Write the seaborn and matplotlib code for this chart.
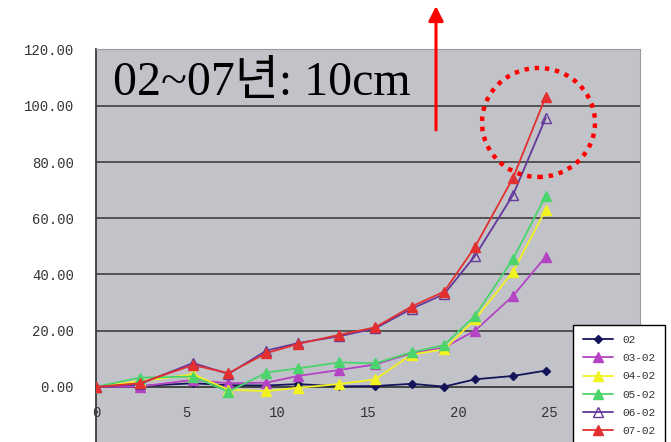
import numpy as np
import pandas as pd
import matplotlib.pyplot as plt
import seaborn as sns
from matplotlib.patches import Ellipse
from matplotlib.ticker import FuncFormatter

x_vals = [0, 2.4, 5.35, 7.3, 9.4, 11.15, 13.4, 15.4, 17.4, 19.2, 20.9, 23.0, 24.8]

s_02 = [0, 0.3, 1.3, 0.6, 0.5, 1.0, 0.2, 0.3, 1.1, 0.1, 2.7, 3.9, 5.8]
s_03_02 = [0, 0.1, 2.5, 1.3, 1.5, 3.9, 6.0, 8.0, 12.0, 14.0, 20.0, 32.4, 46.3]
s_04_02 = [0, 2.0, 4.5, -1.0, -1.5, -0.3, 1.0, 2.7, 11.5, 13.4, 24.0, 41.0, 63.0]
s_05_02 = [0, 3.3, 3.7, -1.7, 5.1, 6.6, 8.7, 8.4, 12.3, 14.9, 25.3, 45.5, 68.0]
s_06_02 = [0, 1.0, 8.5, 4.6, 12.9, 15.6, 18.0, 20.8, 27.8, 33.0, 46.6, 68.3, 95.7]
s_07_02 = [0, 1.3, 7.8, 4.9, 12.0, 15.3, 18.5, 21.2, 28.6, 33.9, 49.8, 74.4, 103.2]

series_names = ["02", "03-02", "04-02", "05-02", "06-02", "07-02"]
series_vals = [s_02, s_03_02, s_04_02, s_05_02, s_06_02, s_07_02]
series_colors = ["#14145a", "#b444c4", "#f2f222", "#4cd46c", "#64389a", "#e23030"]
series_markers = ["D", "^", "^", "^", "^", "^"]

y_ticks = [0, 20, 40, 60, 80, 100, 120]
x_ticks = [0, 5, 10, 15, 20, 25]

sns.set_style("white")
plt.rcParams['font.family'] = ['Liberation Mono', 'DejaVu Sans Mono']

fig = plt.figure(figsize=(6.71, 4.42), dpi=100)
ax = fig.add_axes([96 / 671, 0, 544 / 671, 393 / 442])
ax.set_facecolor("#c1c3c8")

for name, vals, col, mk in zip(series_names, series_vals, series_colors, series_markers):
    fc = "none" if name == "06-02" else col
    ms = 4.5 if mk == "D" else 6.5
    sns.lineplot(x=x_vals, y=vals, ax=ax, color=col, marker=mk, markersize=ms,
                 markerfacecolor=fc, markeredgecolor=col, markeredgewidth=1.0,
                 linewidth=1.3, label=name, sort=False, zorder=3)

ax.set_xlim(0, 30)
ax.set_ylim(-19.6, 120.2)
ax.set_xlabel("")
ax.set_ylabel("")
ax.set_yticks(y_ticks)
ax.set_xticks(x_ticks)
ax.yaxis.set_major_formatter(FuncFormatter(lambda v, p: f"{v:.2f}"))

for v in y_ticks[1:-1]:
    ax.axhline(v, color="#4a4a4a", lw=1.3, zorder=1)

ax.spines["bottom"].set_position(("data", 0))
ax.spines["bottom"].set_color("#3a3a3a")
ax.spines["bottom"].set_linewidth(1.3)
ax.spines["left"].set_color("#3a3a3a")
ax.spines["left"].set_linewidth(1.3)
ax.spines["top"].set_color("#9a9a9a")
ax.spines["right"].set_color("#9a9a9a")

ax.tick_params(axis="y", length=0, pad=16, labelsize=10, labelcolor="#333333")
ax.tick_params(axis="x", direction="inout", length=5, width=1, color="#3a3a3a",
               pad=11, labelsize=10, labelcolor="#333333")

leg = ax.legend(loc="upper left", bbox_to_anchor=(573 / 671, 1 - 325 / 442),
                bbox_transform=fig.transFigure, borderaxespad=0, frameon=True,
                fancybox=False, edgecolor="black", framealpha=1, fontsize=8,
                handlelength=2.7, labelspacing=0.74, borderpad=0.9,
                handletextpad=0.8)
leg.get_frame().set_linewidth(1.0)
for t in leg.get_texts():
    t.set_color("#333333")

fig.text(113 / 671, 1 - 95 / 442, "02~07년: 10cm", fontsize=34.5,
         family=["Liberation Serif", "Noto Sans CJK KR"], va="baseline", color="black")

ax.annotate("", xy=(436, 442 - 6), xytext=(436, 442 - 130), xycoords="figure pixels",
            textcoords="figure pixels",
            arrowprops=dict(arrowstyle="-|>", color="red", lw=2.2, mutation_scale=22,
                            shrinkA=0, shrinkB=0))

circle = Ellipse((538.5 / 671, 1 - 122.5 / 442), 113 / 671, 109 / 442,
                 transform=fig.transFigure, fill=False, edgecolor="red", lw=3.2,
                 linestyle=(0, (1, 1.3)))
fig.add_artist(circle)

fig.savefig("out.png", dpi=100)
